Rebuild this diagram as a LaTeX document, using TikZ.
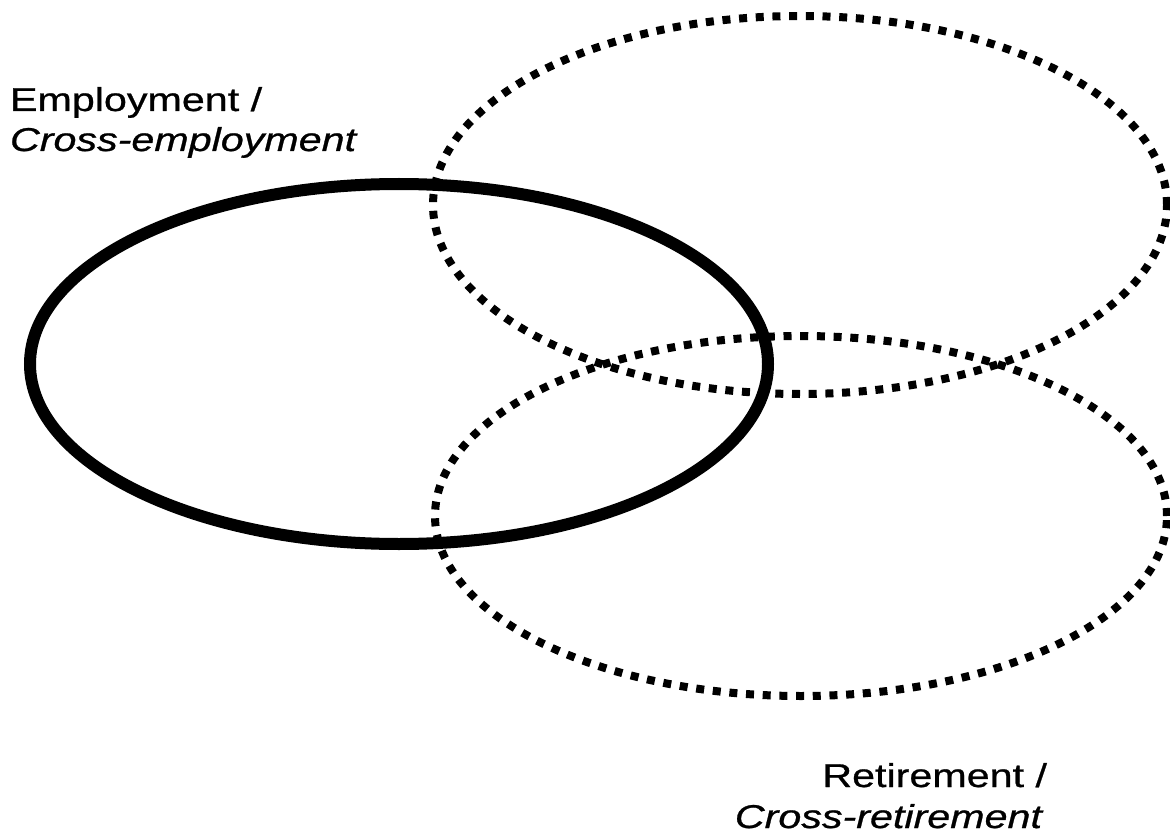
\documentclass[tikz,border=0pt]{standalone}
\usepackage{fontspec}
\usetikzlibrary{shapes.geometric}
\newfontfamily\labfont[FakeStretch=1.25,FakeBold=0.8]{Liberation Sans}
\tikzset{
  solidring/.style={ellipse, draw=black, line width=12pt, inner sep=0pt, outer sep=0pt},
  dotring/.style={ellipse, draw=black, line width=8pt, dash pattern=on 8pt off 8.7pt, inner sep=0pt, outer sep=0pt},
  lab/.style={inner sep=0pt, outer sep=0pt, font=\labfont\fontsize{33pt}{40pt}\selectfont}
}
\begin{document}
\begin{tikzpicture}[x=1pt,y=-1pt]
\useasboundingbox (0,0) rectangle (1170,837);
\fill[white] (0,0) rectangle (1170,837);
\node[dotring, minimum width=734pt, minimum height=378pt] (cemp) at (800,205) {};
\node[dotring, minimum width=732pt, minimum height=360pt] (cret) at (801,516) {};
\node[solidring, minimum width=738pt, minimum height=360pt] (emp) at (399,364) {};
\node[lab, anchor=base west] (l1) at (10,111) {Employment /};
\node[lab, anchor=base west] (l2) at (10,151) {\itshape Cross-employment};
\node[lab, anchor=base east] (r1) at (1047,787) {Retirement /};
\node[lab, anchor=base east] (r2) at (1042,828) {\itshape Cross-retirement};
\end{tikzpicture}
\end{document}
